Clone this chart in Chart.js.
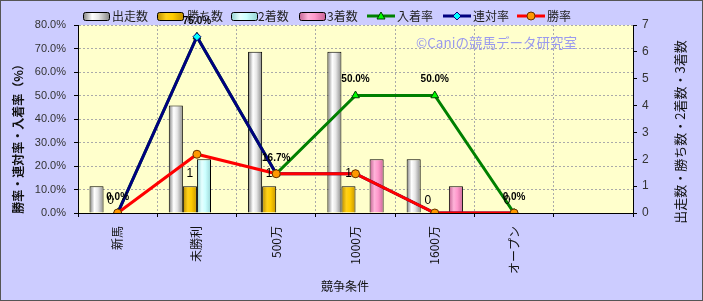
<!DOCTYPE html>
<html><head><meta charset="utf-8">
<script src="https://cdn.jsdelivr.net/npm/chart.js@4.4.1/dist/chart.umd.min.js"></script>
<style>html,body{margin:0;padding:0;background:#ccccff;}#wrap{width:703px;height:301px;}</style>
</head><body><div id="wrap"><canvas id="c" width="703" height="301"></canvas></div>
<script>
const categories = ['新馬','未勝利','500万','1000万','1600万','オープン',''];
const starts   = [1,4,6,6,2,0,null];
const wins     = [0,1,1,1,0,0,null];
const seconds  = [0,2,0,0,0,0,null];
const thirds   = [0,0,0,2,1,0,null];
const placeRate    = [0,75,16.7,50,50,0,null];
const quinellaRate = [0,75,16.7,16.7,0,0,null];
const winRate      = [0,25,16.7,16.7,0,0,null];
const seriesNames = ['出走数','勝ち数','2着数','3着数','入着率','連対率','勝率'];

const JP = '"Noto Sans CJK JP", "Noto Sans", sans-serif';
const LAT = '"Liberation Sans", Arial, sans-serif';

const barStops = [
  ['#7a7a7a','#ffffff','#e6e6e6','#8a8a8a'],
  ['#b88a00','#ffd11a','#ffcc00','#c79600'],
  ['#8fcfcf','#e6ffff','#ccffff','#99d6d6'],
  ['#c0608f','#ffb3d9','#ff99cc','#cc6699']
];
function barGrad(ctx, d){
  const chart = ctx.chart, xs = chart.scales.x;
  if(!xs || ctx.dataIndex === undefined) return barStops[d][2];
  const cw = xs.getPixelForValue(1) - xs.getPixelForValue(0);
  const bw = cw*0.71/4;
  const c = xs.getPixelForValue(ctx.dataIndex) + (d-1.5)*bw;
  if(!isFinite(c) || !isFinite(bw) || bw <= 0) return barStops[d][2];
  const g = chart.ctx.createLinearGradient(c-bw/2,0,c+bw/2,0);
  const s = barStops[d];
  g.addColorStop(0,s[0]); g.addColorStop(0.35,s[1]); g.addColorStop(0.6,s[2]); g.addColorStop(1,s[3]);
  return g;
}
function legendGrad(c, x, w, d){
  const g = c.createLinearGradient(x,0,x+w,0);
  const s = barStops[d];
  g.addColorStop(0,s[0]); g.addColorStop(0.35,s[1]); g.addColorStop(0.6,s[2]); g.addColorStop(1,s[3]);
  return g;
}

const deco = {
  id:'deco',
  beforeDraw(chart){
    const c = chart.ctx, a = chart.chartArea;
    c.save();
    c.fillStyle = '#ccccff'; c.fillRect(0,0,chart.width,chart.height);
    c.fillStyle = '#ffffcc'; c.fillRect(a.left,a.top,a.right-a.left,a.bottom-a.top);
    c.restore();
  },
  beforeDatasetsDraw(chart){
    const c = chart.ctx;
    c.save();
    c.font = '13.5px ' + JP; c.fillStyle = '#9a9aee'; c.textBaseline='middle'; c.textAlign='left';
    c.fillText('©Caniの競馬データ研究室', 416, 43);
    c.restore();
  },
  afterDatasetsDraw(chart){
    const c = chart.ctx;
    c.save();
    c.fillStyle = '#000'; c.textAlign='center'; c.textBaseline='middle';
    const mW = chart.getDatasetMeta(1);
    c.font = '12px ' + LAT;
    mW.data.forEach((el,i)=>{ if(wins[i]===null) return; c.fillText(String(wins[i]), el.x, el.y-12); });
    const mP = chart.getDatasetMeta(4);
    c.font = 'bold 10px ' + LAT;
    mP.data.forEach((el,i)=>{ if(placeRate[i]===null) return; c.fillText(placeRate[i].toFixed(1)+'%', el.x, el.y-16); });
    c.restore();
  },
  afterDraw(chart){
    const c = chart.ctx;
    c.save();
    c.font = '12px ' + JP; c.textBaseline='middle'; c.textAlign='left'; 
    const ly = 16;
    const barItems = [[83,112],[157,187],[231,258],[299,327]];
    barItems.forEach((p,d)=>{
      const x=p[0], w=26, y=ly-4, h=8;
      c.fillStyle = legendGrad(c,x,w,d);
      c.strokeStyle = '#000'; c.lineWidth=1;
      c.beginPath();
      if(c.roundRect) c.roundRect(x+0.5,y+0.5,w,h,2); else c.rect(x+0.5,y+0.5,w,h);
      c.fill(); c.stroke();
      c.fillStyle = '#222'; c.fillText(seriesNames[d], p[1], ly);
    });
    const lineItems = [
      [367,397,'#008000','triangle','#00ff00','#004000'],
      [443,473,'#000080','diamond','#00ffff','#000080'],
      [517,547,'#ff0000','circle','#ff9900','#663300']
    ];
    lineItems.forEach((p,k)=>{
      const x=p[0];
      c.strokeStyle=p[2]; c.lineWidth=3;
      c.beginPath(); c.moveTo(x,ly); c.lineTo(x+28,ly); c.stroke();
      const mx=x+14;
      c.fillStyle=p[4]; c.strokeStyle=p[5]; c.lineWidth=1;
      c.beginPath();
      if(p[3]==='triangle'){ c.moveTo(mx,ly-4); c.lineTo(mx+4,ly+3); c.lineTo(mx-4,ly+3); c.closePath(); }
      else if(p[3]==='diamond'){ c.moveTo(mx,ly-4); c.lineTo(mx+4,ly); c.lineTo(mx,ly+4); c.lineTo(mx-4,ly); c.closePath(); }
      else { c.arc(mx,ly,4,0,Math.PI*2); }
      c.fill(); c.stroke();
      c.fillStyle='#222'; c.fillText(seriesNames[4+k], p[1], ly);
    });
    c.fillStyle='#111'; c.textAlign='center';
    c.font = 'bold 12px ' + JP;
    c.save(); c.translate(18,136); c.rotate(-Math.PI/2); c.fillText('勝率・連対率・入着率（%）',0,0); c.restore();
    c.font = '13px ' + JP;
    c.save(); c.translate(680,132); c.rotate(-Math.PI/2); c.fillText('出走数・勝ち数・2着数・3着数',0,0); c.restore();
    c.font = '12px ' + JP;
    c.fillText('競争条件', 345, 286);
    c.strokeStyle='#555'; c.lineWidth=1; c.strokeRect(0.5,0.5,chart.width-1,chart.height-1);
    c.restore();
  }
};

const barDs = (label, data, d) => ({
  type:'bar', label, data, yAxisID:'y1', order:10,
  backgroundColor: ctx => barGrad(ctx,d),
  borderColor:'#000', borderWidth:1,
  categoryPercentage:0.71, barPercentage:1.0
});

new Chart(document.getElementById('c'), {
  data:{
    labels: categories,
    datasets:[
      barDs(seriesNames[0], starts, 0),
      barDs(seriesNames[1], wins, 1),
      barDs(seriesNames[2], seconds, 2),
      barDs(seriesNames[3], thirds, 3),
      {type:'line', label:seriesNames[4], data:placeRate, yAxisID:'y', order:3,
       borderColor:'#008000', borderWidth:3, tension:0, pointStyle:'triangle', pointRadius:4.5,
       pointBackgroundColor:'#00ff00', pointBorderColor:'#004000', pointBorderWidth:1},
      {type:'line', label:seriesNames[5], data:quinellaRate, yAxisID:'y', order:2,
       borderColor:'#000080', borderWidth:3, tension:0, pointStyle:'rectRot', pointRadius:4,
       pointBackgroundColor:'#00ffff', pointBorderColor:'#000080', pointBorderWidth:1},
      {type:'line', label:seriesNames[6], data:winRate, yAxisID:'y', order:1,
       borderColor:'#ff0000', borderWidth:3, tension:0, pointStyle:'circle', pointRadius:4,
       pointBackgroundColor:'#ff9900', pointBorderColor:'#663300', pointBorderWidth:1}
    ]
  },
  options:{
    responsive:false, animation:false, devicePixelRatio:1,
    layout:{padding:{top:25,left:0,right:0,bottom:0}},
    plugins:{legend:{display:false}, tooltip:{enabled:false}},
    scales:{
      x:{
        offset:true,
        grid:{display:true, offset:true, color:'#aaaaaa', tickColor:'#000', tickLength:4},
        border:{display:true, color:'#000', width:1, dash:[2,2]},
        ticks:{autoSkip:false, maxRotation:90, minRotation:90, padding:9, color:'#111', font:{family:JP, size:12}},
        afterFit(s){ s.height = 88; }
      },
      y:{
        position:'left', min:0, max:80,
        grid:{color:'#aaaaaa', tickColor:'#000', tickLength:4},
        border:{display:true, color:'#000', width:1, dash:[2,2]},
        ticks:{stepSize:10, padding:8, color:'#333', font:{family:LAT, size:11},
          callback:v=>v.toFixed(1)+'%'},
        afterFit(s){ s.width = 78; }
      },
      y1:{
        position:'right', min:0, max:7,
        grid:{drawOnChartArea:false, tickColor:'#000', tickLength:4},
        border:{display:true, color:'#000', width:1},
        ticks:{stepSize:1, padding:5, color:'#333', font:{family:LAT, size:12}},
        afterFit(s){ s.width = 70; }
      }
    }
  },
  plugins:[deco]
});
</script>
</body></html>
